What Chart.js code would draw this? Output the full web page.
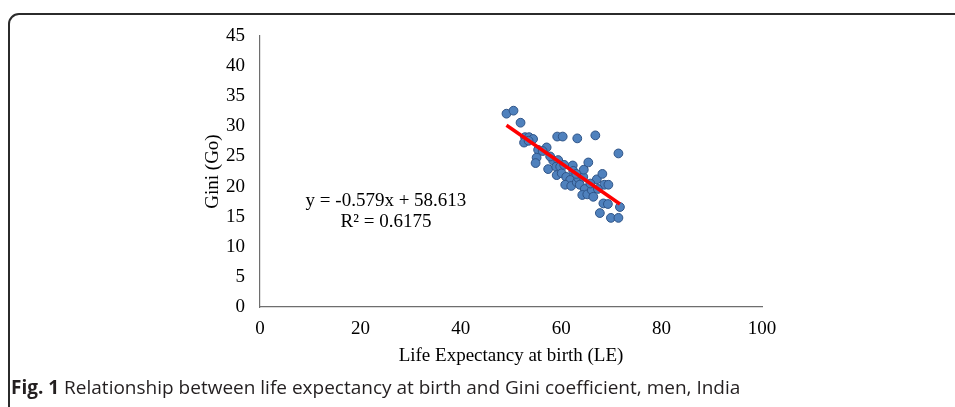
<!DOCTYPE html>
<html>
<head>
<meta charset="utf-8">
<script src="https://cdn.jsdelivr.net/npm/chart.js@4/dist/chart.umd.min.js"></script>
<style>
  html, body { margin: 0; padding: 0; width: 955px; height: 407px; overflow: hidden; background: #fff; }
  #frame { position: absolute; left: 8px; top: 13px; width: 1000px; height: 600px; border: 2px solid #2b2b2b; border-radius: 11px; box-sizing: border-box; }
  #wrap { position: absolute; left: 0; top: 0; width: 955px; height: 407px; }
  .eq { position: absolute; font-family: "Liberation Serif", "Times New Roman", serif; font-size: 19px; color: #000; text-align: center; width: 220px; line-height: 21px; }
  #caption { position: absolute; left: 11px; top: 374px; font-family: "Open Sans", sans-serif; font-size: 19px; line-height: 26px; color: #231f20; white-space: nowrap; letter-spacing: 0px; }
  #caption b { font-weight: 700; }
</style>
</head>
<body>
<div id="frame"></div>
<div id="wrap"><canvas id="c" width="955" height="407"></canvas></div>
<div class="eq" style="left:276px; top:189px;">y = -0.579x + 58.613</div>
<div class="eq" style="left:276px; top:210px;">R² = 0.6175</div>
<div id="caption"><b>Fig. 1</b> Relationship between life expectancy at birth and Gini coefficient, men, India</div>
<script>
// Life expectancy at birth (x) and Gini (y)
const lifeExpectancy = [49.1, 50.5, 51.9, 52.8, 53.6, 54.4, 52.6, 57.1, 55.4, 55.1, 54.9, 59.2, 60.3, 63.2, 66.8, 71.4,
  57.4, 58.4, 59.4, 59.0, 59.8, 59.1, 60.1, 61.0, 62.3, 62.4, 61.8, 60.8, 62.0, 63.1, 63.4, 64.4, 64.5, 65.4, 63.7,
  64.7, 64.2, 65.2, 66.1, 66.4, 67.1, 68.2, 68.6, 69.4, 68.4, 69.3, 71.7, 67.7, 69.9, 71.4,
  53.5, 56.3, 57.8, 60.6, 63.0, 65.8, 67.3];
const giniValues = [32.1, 32.6, 30.6, 28.2, 28.2, 27.9, 27.3, 26.5, 26.1, 24.8, 23.9, 28.3, 28.3, 28.0, 28.5, 25.5,
  22.9, 24.3, 24.4, 23.3, 23.3, 21.9, 22.2, 21.6, 23.5, 22.6, 21.1, 20.3, 20.1, 20.7, 21.4, 21.6, 22.8, 24.0, 20.3,
  19.6, 18.6, 18.7, 19.4, 18.3, 21.2, 22.1, 20.3, 20.3, 17.2, 17.1, 16.6, 15.6, 14.8, 14.8,
  27.6, 25.9, 25.0, 23.6, 22.1, 20.5, 19.6];
const trendSlope = [-0.579];
const trendIntercept = [58.613];
const trendRange = [49.1, 71.7];
const xTicks = [0, 20, 40, 60, 80, 100];
const yTicks = [0, 5, 10, 15, 20, 25, 30, 35, 40, 45];

const points = lifeExpectancy.map((x, i) => ({ x: x, y: giniValues[i] }));
const trend = trendRange.map(x => ({ x: x, y: trendSlope[0] * x + trendIntercept[0] }));
const serif = '"Liberation Serif", "Times New Roman", serif';

new Chart(document.getElementById('c'), {
  type: 'scatter',
  data: {
    datasets: [
      { type: 'line', data: trend, borderColor: '#ff0000', borderWidth: 3.5, pointRadius: 0, fill: false, order: 0 },
      { data: points, backgroundColor: '#4f81bd', borderColor: '#2f5487', borderWidth: 1, pointRadius: 4.4, order: 1 }
    ]
  },
  options: {
    responsive: false,
    animation: false,
    events: [],
    layout: { padding: { left: 198, right: 193, top: 36, bottom: 36 } },
    plugins: { legend: { display: false }, tooltip: { enabled: false } },
    scales: {
      x: {
        type: 'linear', min: 0, max: 100,
        afterBuildTicks: s => { s.ticks = xTicks.map(v => ({ value: v })); },
        afterFit: s => { s.height = 64; },
        grid: { display: false, drawTicks: false },
        border: { display: true, color: '#6e6e6e', width: 1.2 },
        ticks: { padding: 11, color: '#000', font: { family: serif, size: 19 } },
        title: { display: true, text: 'Life Expectancy at birth (LE)', color: '#000', font: { family: serif, size: 19 } }
      },
      y: {
        type: 'linear', min: 0, max: 45,
        afterBuildTicks: s => { s.ticks = yTicks.map(v => ({ value: v })); },
        afterFit: s => { s.width = 62; },
        grid: { display: false, drawTicks: false },
        border: { display: true, color: '#6e6e6e', width: 1.2 },
        ticks: { padding: 15, color: '#000', font: { family: serif, size: 19 } },
        title: { display: true, text: 'Gini (Go)', color: '#000', font: { family: serif, size: 19 } }
      }
    }
  }
});
</script>
</body>
</html>
